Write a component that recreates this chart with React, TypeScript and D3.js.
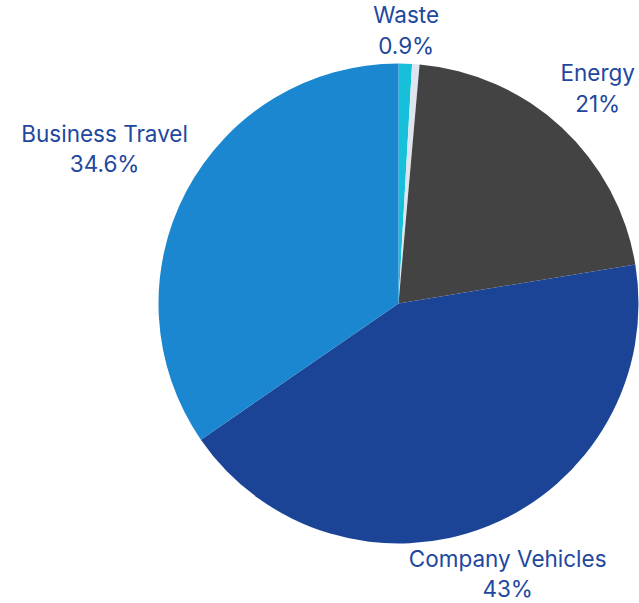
import React from "react";
import * as d3 from "d3";

// slices clockwise from 12 o'clock
const categories = ["Waste", "Other", "Energy", "Company Vehicles", "Business Travel"];
const values = [0.9, 0.5, 21, 43, 34.6];
const labels = ["0.9%", "", "21%", "43%", "34.6%"];
const colors = ["#17c0da", "#dfe5ee", "#434343", "#1c4496", "#1a87d0"];

const W = 639;
const H = 603;
const cx = 398.5;
const cy = 303.5;
const radius = 240;

// how far each label block sits from the centre
const labelDist: Record<string, number> = {
  Waste: 273,
  Energy: 293,
  "Company Vehicles": 292,
  "Business Travel": 332,
};

const App: React.FC = () => {
  const data = categories.map((c, i) => ({ name: c, value: values[i], label: labels[i], color: colors[i] }));
  const pie = d3.pie<typeof data[0]>().value((d) => d.value).sort(null);
  const arcs = pie(data);
  const arc = d3.arc<d3.PieArcDatum<typeof data[0]>>().innerRadius(0).outerRadius(radius);

  return (
    <svg width={W} height={H} style={{ position: "absolute", left: 0, top: 0, background: "#fff" }}>
      <g transform={`translate(${cx},${cy})`}>
        {arcs.map((a, i) => (
          <path key={i} d={arc(a) ?? ""} fill={a.data.color} />
        ))}
        {arcs
          .filter((a) => a.data.label)
          .map((a, i) => {
            const mid = (a.startAngle + a.endAngle) / 2;
            const d = labelDist[a.data.name];
            const x = Math.sin(mid) * d;
            const y = -Math.cos(mid) * d;
            return (
              <text
                key={i}
                textAnchor="middle"
                fill="#2147a0"
                fontFamily="Inter, 'Open Sans', sans-serif"
                fontSize={22.5}
              >
                <tspan x={x} y={y - 7.5}>{a.data.name}</tspan>
                <tspan x={x} y={y + 23}>{a.data.label}</tspan>
              </text>
            );
          })}
      </g>
    </svg>
  );
};

export default App;
